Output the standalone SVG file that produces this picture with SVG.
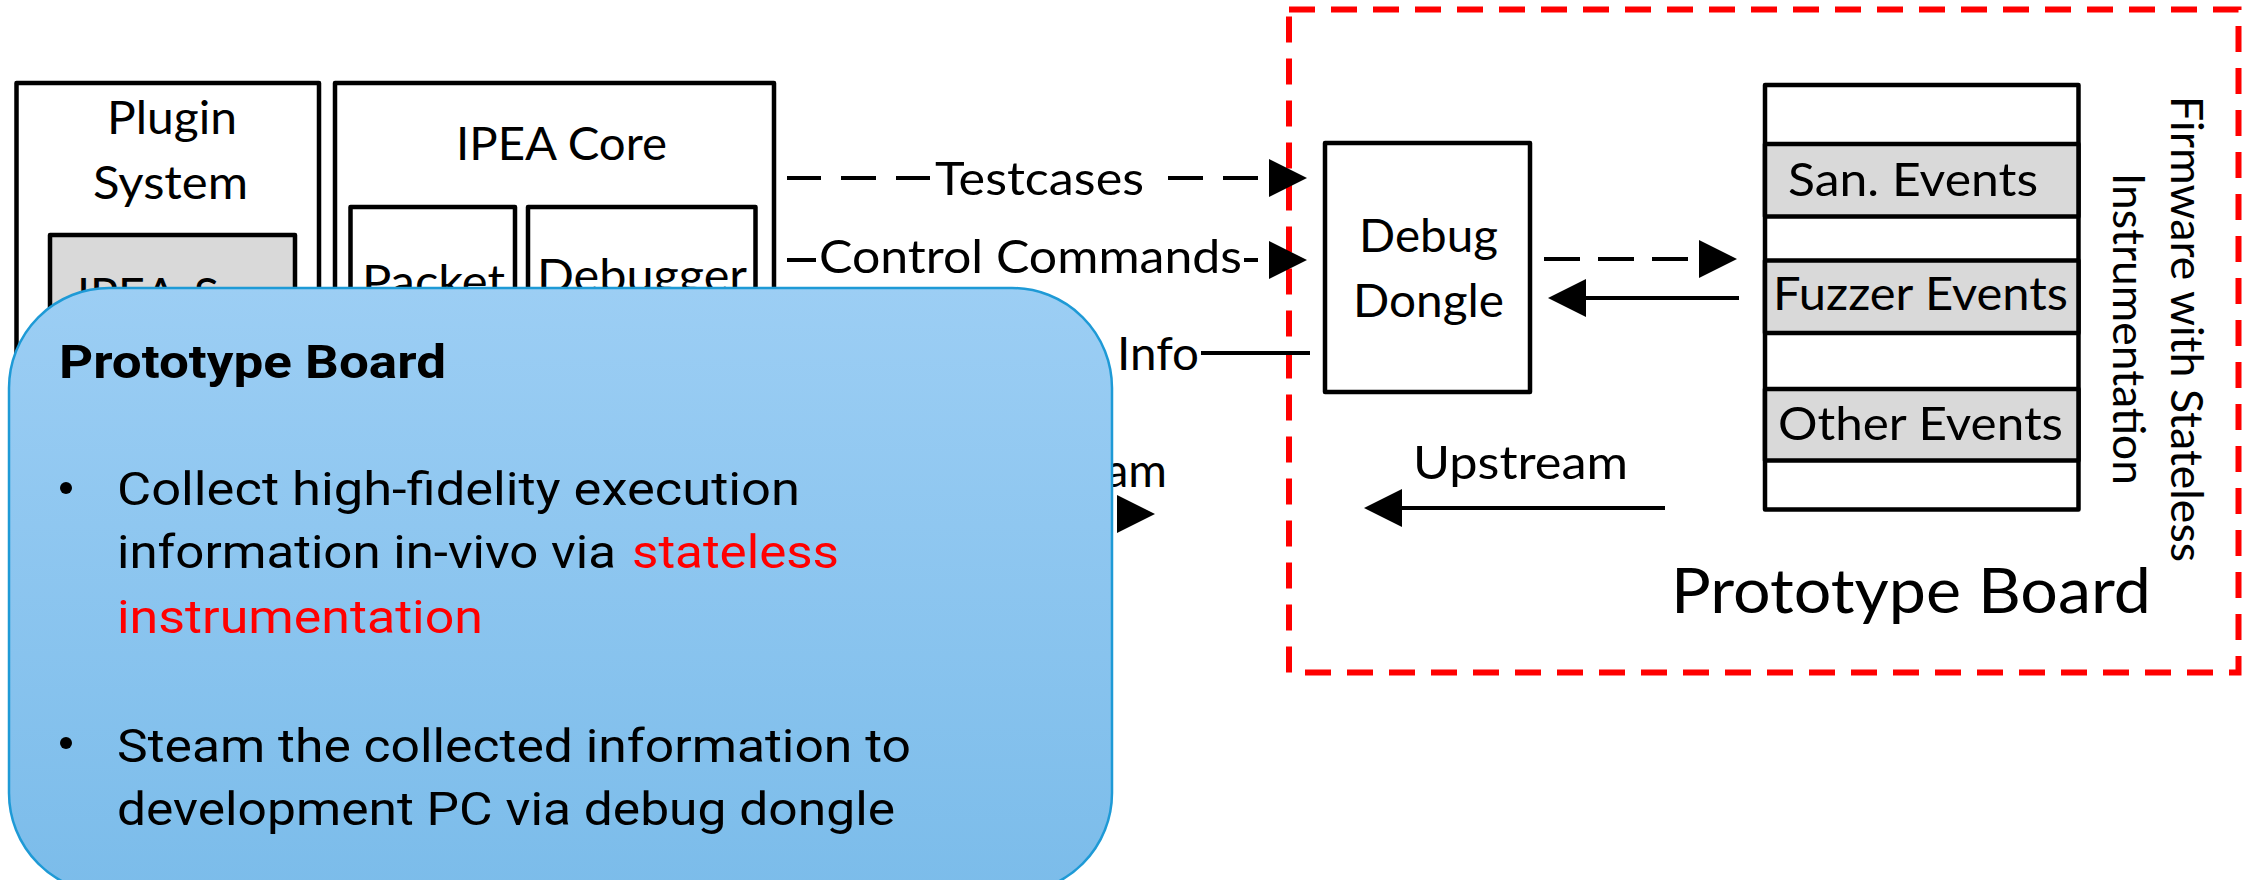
<svg xmlns="http://www.w3.org/2000/svg" xmlns:xlink="http://www.w3.org/1999/xlink" width="2250" height="880" viewBox="0 0 2250 880">
  <defs>
    <style>
      .box { fill: #ffffff; stroke: #000000; stroke-width: 4.5; stroke-linejoin: round; }
      .gray { fill: #d9d9d9; stroke: #000000; stroke-width: 4.5; stroke-linejoin: round; }
      .lbl { font-family: "Lato", "Liberation Sans", sans-serif; font-size: 47px; fill: #000000; }
      .mid { text-anchor: middle; }
      .ln { fill: none; stroke: #000000; stroke-width: 4; }
      .dash { stroke-dasharray: 36 18; }
      .red { fill: none; stroke: #ff0000; stroke-width: 6; stroke-dasharray: 26 16; }
      .cb { font-family: "Roboto", "Liberation Sans", sans-serif; font-size: 46px; fill: #000000; }
      .hot { fill: #ff0000; }
    </style>
    <path id="ah" d="M0,-19 L38,0 L0,19 Z" fill="#000000"/>
    <linearGradient id="blueg" x1="0" y1="0" x2="0" y2="1">
      <stop offset="0" stop-color="#9ccef4"/>
      <stop offset="1" stop-color="#7bbcea"/>
    </linearGradient>
  </defs>

  <rect width="2250" height="880" fill="#ffffff"/>

  <g id="plugin-system">
    <rect class="box" x="16.5" y="83" width="302.5" height="700"/>
    <text class="lbl mid" x="172" y="134" textLength="130" lengthAdjust="spacingAndGlyphs">Plugin</text>
    <text class="lbl mid" x="170.5" y="199" textLength="155" lengthAdjust="spacingAndGlyphs">System</text>
    <g id="ipea-san">
      <rect class="gray" x="50" y="235" width="245" height="200"/>
      <text class="lbl mid" x="172.5" y="311" textLength="191" lengthAdjust="spacingAndGlyphs">IPEA-San</text>
    </g>
  </g>

  <g id="ipea-core">
    <rect class="box" x="335" y="83" width="439" height="700"/>
    <text class="lbl mid" x="561.5" y="160" textLength="211" lengthAdjust="spacingAndGlyphs">IPEA Core</text>
    <g id="packet">
      <rect class="box" x="350.5" y="207" width="164.5" height="240"/>
      <text class="lbl mid" x="433.5" y="298" textLength="143" lengthAdjust="spacingAndGlyphs">Packet</text>
    </g>
    <g id="debugger">
      <rect class="box" x="528" y="207" width="227.5" height="240"/>
      <text class="lbl mid" x="642" y="292" textLength="210" lengthAdjust="spacingAndGlyphs">Debugger</text>
    </g>
  </g>

  <g id="prototype-board">
    <rect class="red" x="1289" y="9.5" width="949.5" height="663"/>
    <text class="lbl" x="1671" y="613" style="font-size:62px" textLength="480" lengthAdjust="spacingAndGlyphs">Prototype Board</text>
  </g>

  <g id="debug-dongle">
    <rect class="box" x="1325" y="143" width="205" height="249"/>
    <text class="lbl mid" x="1428.5" y="252" textLength="139" lengthAdjust="spacingAndGlyphs">Debug</text>
    <text class="lbl mid" x="1428.5" y="317" textLength="151" lengthAdjust="spacingAndGlyphs">Dongle</text>
  </g>

  <g id="firmware">
    <rect class="box" x="1765" y="85" width="313.5" height="424.5"/>
    <rect class="gray" x="1765" y="144" width="313.5" height="72.5"/>
    <rect class="gray" x="1765" y="260.5" width="313.5" height="72.5"/>
    <rect class="gray" x="1765" y="389" width="313.5" height="71.5"/>
    <text class="lbl mid" x="1913" y="196" textLength="250" lengthAdjust="spacingAndGlyphs">San. Events</text>
    <text class="lbl mid" x="1920.5" y="310" textLength="295" lengthAdjust="spacingAndGlyphs">Fuzzer Events</text>
    <text class="lbl mid" x="1920.5" y="440" textLength="285" lengthAdjust="spacingAndGlyphs">Other Events</text>
    <g id="firmware-label">
      <text class="lbl mid" transform="translate(2171,329) rotate(90)" x="0" y="0" style="font-size:44px" textLength="466" lengthAdjust="spacingAndGlyphs">Firmware with Stateless</text>
      <text class="lbl mid" transform="translate(2113,329) rotate(90)" x="0" y="0" style="font-size:44px" textLength="312" lengthAdjust="spacingAndGlyphs">Instrumentation</text>
    </g>
  </g>

  <g id="connectors">
    <path class="ln" d="M787,178 H821 M841,178 H876 M896,178 H930 M1168,178 H1203 M1223,178 H1258"/>
    <use xlink:href="#ah" transform="translate(1269,178)"/>
    <text class="lbl" x="935" y="195" textLength="209" lengthAdjust="spacingAndGlyphs">Testcases</text>

    <path class="ln" d="M787,260 H816 M1244,260 H1258"/>
    <use xlink:href="#ah" transform="translate(1269,260)"/>
    <text class="lbl" x="819" y="273" textLength="423" lengthAdjust="spacingAndGlyphs">Control Commands</text>

    <path class="ln" d="M1201,353 H1310"/>
    <text class="lbl" x="1117" y="370" textLength="82" lengthAdjust="spacingAndGlyphs">Info</text>

    <use xlink:href="#ah" transform="translate(1117,514)"/>
    <text class="lbl" x="1167" y="487" style="text-anchor:end">am</text>

    <path class="ln dash" d="M1544,259 H1690"/>
    <use xlink:href="#ah" transform="translate(1699,259)"/>

    <path class="ln" d="M1739,298 H1586"/>
    <use xlink:href="#ah" transform="translate(1586,298) rotate(180)"/>

    <path class="ln" d="M1665,508 H1402"/>
    <use xlink:href="#ah" transform="translate(1402,508) rotate(180)"/>
    <text class="lbl" x="1413" y="479" textLength="215" lengthAdjust="spacingAndGlyphs">Upstream</text>
  </g>

  <g id="callout">
    <rect x="9" y="288" width="1103" height="605" rx="100" ry="100" fill="url(#blueg)" stroke="#1e9ad6" stroke-width="2.5"/>
    <text class="cb" x="59" y="378" style="font-weight:bold" textLength="387" lengthAdjust="spacingAndGlyphs">Prototype Board</text>
    <circle cx="66" cy="488" r="6" fill="#000000"/>
    <text class="cb" x="117" y="505" textLength="683" lengthAdjust="spacingAndGlyphs">Collect high-fidelity execution</text>
    <text class="cb" x="117" y="568" textLength="499" lengthAdjust="spacingAndGlyphs">information in-vivo via</text>
    <text class="cb hot" x="632" y="568" textLength="207" lengthAdjust="spacingAndGlyphs">stateless</text>
    <text class="cb hot" x="117" y="633" textLength="366" lengthAdjust="spacingAndGlyphs">instrumentation</text>
    <circle cx="66" cy="743" r="6" fill="#000000"/>
    <text class="cb" x="117" y="762" textLength="794" lengthAdjust="spacingAndGlyphs">Steam the collected information to</text>
    <text class="cb" x="117" y="825" textLength="778" lengthAdjust="spacingAndGlyphs">development PC via debug dongle</text>
  </g>
</svg>
